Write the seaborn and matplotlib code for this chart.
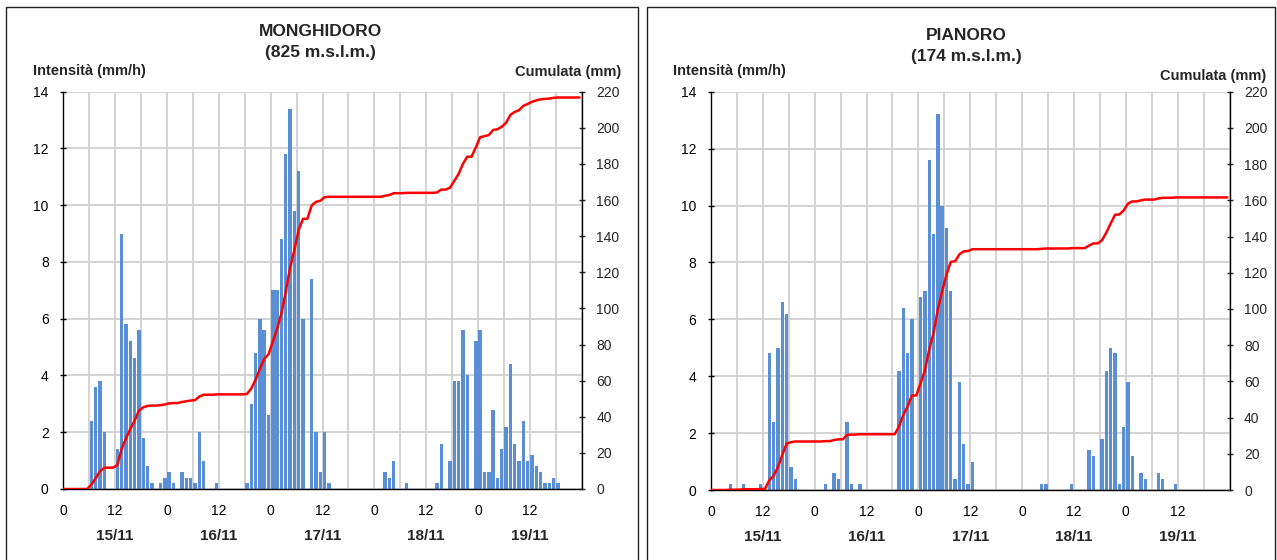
import numpy as np
import pandas as pd
import matplotlib
matplotlib.use("Agg")
import matplotlib.pyplot as plt
from matplotlib.patches import Rectangle
import seaborn as sns

# ---------------- data ----------------
# hour index (0 = 15/11 00:00) of non-zero hourly intensities (mm/h)
hours_monghidoro = [6, 7, 8, 9, 12, 13, 14, 15, 16, 17, 18, 19, 20, 22, 23, 24, 25, 27, 28, 29,
                    30, 31, 32, 35, 42, 43, 44, 45, 46, 47, 48, 49, 50, 51, 52, 53, 54, 55, 57,
                    58, 59, 60, 61, 74, 75, 76, 79, 86, 87, 89, 90, 91, 92, 93, 95, 96, 97, 98,
                    99, 100, 101, 102, 103, 104, 105, 106, 107, 108, 109, 110, 111, 112, 113, 114]
intens_monghidoro = [2.4, 3.6, 3.8, 2.0, 1.4, 9.0, 5.8, 5.2, 4.6, 5.6, 1.8, 0.8, 0.2, 0.2, 0.4, 0.6,
                     0.2, 0.6, 0.4, 0.4, 0.2, 2.0, 1.0, 0.2, 0.2, 3.0, 4.8, 6.0, 5.6, 2.6, 7.0, 7.0,
                     8.8, 11.8, 13.4, 9.8, 11.2, 6.0, 7.4, 2.0, 0.6, 2.0, 0.2, 0.6, 0.4, 1.0, 0.2,
                     0.2, 1.6, 1.0, 3.8, 3.8, 5.6, 4.0, 5.2, 5.6, 0.6, 0.6, 2.8, 0.4, 1.4, 2.2,
                     4.4, 1.6, 1.0, 2.4, 1.0, 1.2, 0.8, 0.6, 0.2, 0.2, 0.4, 0.2]

hours_pianoro = [4, 7, 11, 13, 14, 15, 16, 17, 18, 19, 26, 28, 29, 31, 32, 34, 43, 44, 45, 46, 48,
                 49, 50, 51, 52, 53, 54, 55, 56, 57, 58, 59, 60, 76, 77, 83, 87, 88, 90, 91, 92,
                 93, 94, 95, 96, 97, 99, 100, 103, 104, 107]
intens_pianoro = [0.2, 0.2, 0.2, 4.8, 2.4, 5.0, 6.6, 6.2, 0.8, 0.4, 0.2, 0.6, 0.4, 2.4, 0.2, 0.2,
                  4.2, 6.4, 4.8, 6.0, 6.8, 7.0, 11.6, 9.0, 13.2, 10.0, 9.2, 7.0, 0.4, 3.8, 1.6,
                  0.2, 1.0, 0.2, 0.2, 0.2, 1.4, 1.2, 1.8, 4.2, 5.0, 4.8, 0.2, 2.2, 3.8, 1.2, 0.6,
                  0.4, 0.6, 0.4, 0.2]

stations = ["MONGHIDORO", "PIANORO"]
elevations = ["(825 m.s.l.m.)", "(174 m.s.l.m.)"]
day_labels = ["15/11", "16/11", "17/11", "18/11", "19/11"]
hour_tick_labels = ["0", "12", "0", "12", "0", "12", "0", "12", "0", "12", ""]
n_hours = 120

# ---------------- style ----------------
sns.set_style("white")
plt.rcParams["font.family"] = ["Liberation Sans", "DejaVu Sans"]

BAR_COLOR = "#5A8FD6"
GRID_COLOR = "#D0D0D0"

W, H = 1277, 560
fig = plt.figure(figsize=(W / 100, H / 100), dpi=100)


def px_axes(l, r, t, b):
    return [l / W, 1 - b / H, (r - l) / W, (b - t) / H]


panels = [
    dict(hours=hours_monghidoro, vals=intens_monghidoro, rect=px_axes(63.3, 581.7, 91.7, 489),
         box=(6, 638), title_x=320, title_y=(32, 53), int_x=33, int_y=71, cum_x=621, cum_y=72),
    dict(hours=hours_pianoro, vals=intens_pianoro, rect=px_axes(711, 1229.5, 91.7, 490),
         box=(647, 1275), title_x=966, title_y=(36, 56), int_x=673, int_y=71, cum_x=1266, cum_y=76),
]

for i, p in enumerate(panels):
    # panel frame
    l, r = p["box"]
    fig.add_artist(Rectangle((l / W, -0.05), (r - l) / W, 1.05 - 7 / H,
                             transform=fig.transFigure, fill=False, edgecolor="#222222",
                             linewidth=1.0))

    full = np.zeros(n_hours)
    full[np.array(p["hours"])] = p["vals"]
    df_bars = pd.DataFrame({"x": np.array(p["hours"]) + 0.5, "y": p["vals"]})
    cum = np.concatenate([[0.0], np.cumsum(full)])
    line_x = np.concatenate([[0.0], np.arange(n_hours) + 0.5])
    df_line = pd.DataFrame({"x": line_x, "cum": cum})

    ax = fig.add_axes(p["rect"])
    ax.set_axisbelow(True)
    sns.barplot(data=df_bars, x="x", y="y", native_scale=True, color=BAR_COLOR,
                saturation=1, width=0.78, errorbar=None, linewidth=0,
                ax=ax, zorder=2)
    ax.set_xlim(0, n_hours)
    ax.set_ylim(0, 14)
    ax.set_yticks(np.arange(0, 15, 2))
    ax.set_xticks(np.arange(0, n_hours + 1, 12))
    ax.set_xticklabels(hour_tick_labels)
    ax.set_xticks(np.arange(6, n_hours, 6), minor=True)
    ax.grid(True, axis="y", color=GRID_COLOR, linewidth=1.3)
    ax.grid(True, axis="x", which="both", color=GRID_COLOR, linewidth=1.3)
    ax.tick_params(axis="x", which="minor", length=0)
    ax.tick_params(axis="both", which="major", direction="inout", length=5, width=1,
                   labelsize=10, pad=8, colors="black")
    ax.set_xlabel("")
    ax.set_ylabel("")
    for s in ["left", "bottom"]:
        ax.spines[s].set_color("black")
        ax.spines[s].set_linewidth(1)
    ax.spines["top"].set_visible(False)
    ax.spines["right"].set_visible(False)

    ax2 = ax.twinx()
    sns.lineplot(data=df_line, x="x", y="cum", color="#FF0000", linewidth=1.8, ax=ax2,
                 zorder=3)
    ax2.set_ylim(0, 220)
    ax2.set_xlim(0, n_hours)
    ax2.set_yticks(np.arange(0, 221, 20))
    ax2.set_ylabel("")
    ax2.tick_params(axis="y", direction="inout", length=5, width=1, labelsize=10, pad=8)
    ax2.spines["right"].set_color("black")
    ax2.spines["right"].set_linewidth(1)
    for s in ["top", "left", "bottom"]:
        ax2.spines[s].set_visible(False)

    # day labels
    for d, lab in enumerate(day_labels):
        ax.text(12 + 24 * d, -0.118, lab, transform=ax.get_xaxis_transform(),
                ha="center", va="center", fontsize=11, fontweight="bold")

    # titles and axis headers
    fig.text(p["title_x"] / W, 1 - p["title_y"][0] / H, stations[i], ha="center",
             va="center", fontsize=12.5, fontweight="bold")
    fig.text(p["title_x"] / W, 1 - p["title_y"][1] / H, elevations[i], ha="center",
             va="center", fontsize=12.5, fontweight="bold")
    fig.text(p["int_x"] / W, 1 - p["int_y"] / H, "Intensità (mm/h)", ha="left",
             va="center", fontsize=10.5, fontweight="bold")
    fig.text(p["cum_x"] / W, 1 - p["cum_y"] / H, "Cumulata (mm)", ha="right",
             va="center", fontsize=10.5, fontweight="bold")

fig.savefig("out.png", dpi=100)
